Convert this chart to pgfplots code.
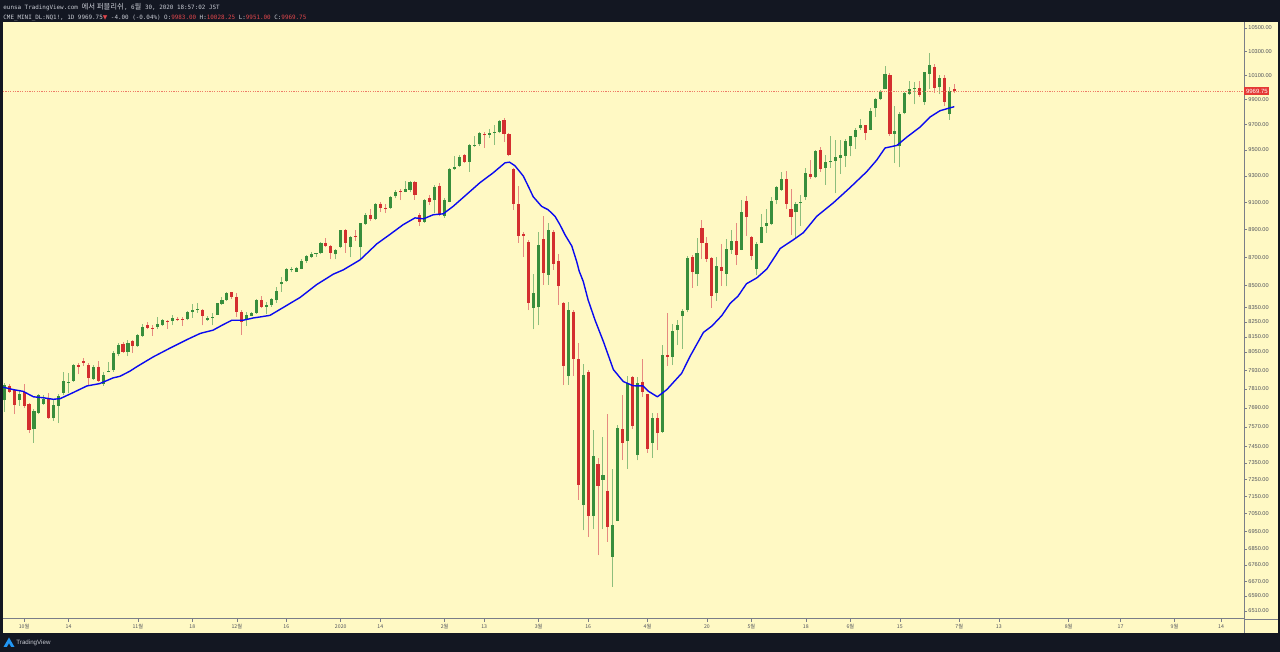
\documentclass[border=0pt]{standalone}
\usepackage{pgfplots}
\pgfplotsset{compat=1.18}
\usepackage{pgfplotstable}
\usepackage{fontspec}
\setmainfont{Liberation Sans}
\newfontfamily\kr{Noto Sans CJK KR}
\newfontfamily\mono{DejaVu Sans Mono}
\newfontfamily\dv{DejaVu Sans}
\definecolor{frame}{HTML}{131722}
\definecolor{paper}{HTML}{FFF9C4}
\definecolor{upc}{HTML}{388E3C}
\definecolor{dnc}{HTML}{D32F2F}
\definecolor{upw}{HTML}{8DBE7C}
\definecolor{dnw}{HTML}{E68A80}
\definecolor{maline}{HTML}{0A0AF0}
\definecolor{axisg}{HTML}{7B7E88}
\definecolor{lab}{HTML}{50535C}
\definecolor{hdr}{HTML}{C8CBD3}
\definecolor{hred}{HTML}{E0474C}
\definecolor{lastred}{HTML}{E53935}
\definecolor{tvblue}{HTML}{2196F3}

% rising candles: per bar i, (low, open) then (high, close); w = wick, b = body
\pgfplotstableread[row sep=\\]{
i w b\\
0 7664 7740\\ 0 7848 7837\\ 0 nan nan\\
3 7702 7740\\ 3 7802 7775\\ 3 nan nan\\
6 7472 7557\\ 6 7681 7667\\ 6 nan nan\\
7 7650 7660\\ 7 7779 7771\\ 7 nan nan\\
8 7707 7712\\ 8 7769 7744\\ 8 nan nan\\
10 7608 7624\\ 10 7748 7706\\ 10 nan nan\\
11 7593 7702\\ 11 7779 7765\\ 11 nan nan\\
12 7769 7786\\ 12 7917 7862\\ 12 nan nan\\
13 7786 7852\\ 13 7912 7858\\ 13 nan nan\\
14 7858 7864\\ 14 7969 7964\\ 14 nan nan\\
18 7868 7872\\ 18 7962 7954\\ 18 nan nan\\
20 7831 7844\\ 20 7917 7900\\ 20 nan nan\\
21 7917 7922\\ 21 7984 7929\\ 21 nan nan\\
22 7920 7930\\ 22 8055 8040\\ 22 nan nan\\
23 8020 8035\\ 23 8110 8095\\ 23 nan nan\\
25 8021 8052\\ 25 8131 8109\\ 25 nan nan\\
27 8083 8087\\ 27 8169 8163\\ 27 nan nan\\
28 8152 8158\\ 28 8233 8218\\ 28 nan nan\\
31 8200 8215\\ 31 8284 8233\\ 31 nan nan\\
32 8224 8229\\ 32 8273 8262\\ 32 nan nan\\
34 8229 8255\\ 34 8300 8277\\ 34 nan nan\\
37 8262 8267\\ 37 8326 8319\\ 37 nan nan\\
38 8277 8317\\ 38 8370 8330\\ 38 nan nan\\
39 8311 8332\\ 39 8377 8339\\ 39 nan nan\\
41 8255 8262\\ 41 8288 8277\\ 41 nan nan\\
42 8227 8276\\ 42 8313 8281\\ 42 nan nan\\
43 8298 8300\\ 43 8381 8377\\ 43 nan nan\\
44 8366 8373\\ 44 8418 8400\\ 44 nan nan\\
45 8393 8400\\ 45 8457 8450\\ 45 nan nan\\
49 8224 8262\\ 49 8315 8300\\ 49 nan nan\\
50 8288 8293\\ 50 8319 8311\\ 50 nan nan\\
51 8306 8311\\ 51 8405 8400\\ 51 nan nan\\
53 8306 8355\\ 53 8389 8366\\ 53 nan nan\\
54 8355 8366\\ 54 8411 8405\\ 54 nan nan\\
55 8382 8400\\ 55 8493 8464\\ 55 nan nan\\
56 8457 8510\\ 56 8557 8527\\ 56 nan nan\\
57 8527 8531\\ 57 8626 8614\\ 57 nan nan\\
58 8595 8609\\ 58 8633 8615\\ 58 nan nan\\
59 8595 8598\\ 59 8631 8626\\ 59 nan nan\\
60 8614 8619\\ 60 8684 8672\\ 60 nan nan\\
61 8660 8672\\ 61 8714 8707\\ 61 nan nan\\
62 8697 8700\\ 62 8738 8726\\ 62 nan nan\\
63 8704 8725\\ 63 8731 8731\\ 63 nan nan\\
64 8721 8728\\ 64 8808 8805\\ 64 nan nan\\
67 8684 8721\\ 67 8758 8749\\ 67 nan nan\\
68 8764 8772\\ 68 8898 8893\\ 68 nan nan\\
70 8698 8770\\ 70 8855 8845\\ 70 nan nan\\
72 8690 8770\\ 72 8950 8945\\ 72 nan nan\\
73 8933 8940\\ 73 9020 9007\\ 73 nan nan\\
75 8970 8975\\ 75 9097 9085\\ 75 nan nan\\
78 9050 9060\\ 78 9150 9137\\ 78 nan nan\\
79 9130 9145\\ 79 9195 9180\\ 79 nan nan\\
81 9175 9180\\ 81 9260 9200\\ 81 nan nan\\
82 9175 9194\\ 82 9262 9250\\ 82 nan nan\\
85 8950 8955\\ 85 9128 9116\\ 85 nan nan\\
87 9020 9116\\ 87 9232 9214\\ 87 nan nan\\
89 8985 8996\\ 89 9132 9120\\ 89 nan nan\\
90 9100 9105\\ 90 9360 9352\\ 90 nan nan\\
91 9343 9352\\ 91 9452 9370\\ 91 nan nan\\
92 9370 9378\\ 92 9460 9447\\ 92 nan nan\\
94 9330 9405\\ 94 9543 9537\\ 94 nan nan\\
95 9525 9531\\ 95 9610 9538\\ 95 nan nan\\
96 9532 9543\\ 96 9637 9630\\ 96 nan nan\\
98 9596 9620\\ 98 9665 9630\\ 98 nan nan\\
99 9540 9632\\ 99 9700 9638\\ 99 nan nan\\
100 9630 9637\\ 100 9732 9724\\ 100 nan nan\\
107 8200 8344\\ 107 8580 8450\\ 107 nan nan\\
108 8227 8350\\ 108 8885 8785\\ 108 nan nan\\
110 8507 8575\\ 110 8945 8893\\ 110 nan nan\\
114 7837 7893\\ 114 8389 8332\\ 114 nan nan\\
117 6955 7100\\ 117 7969 7900\\ 117 nan nan\\
119 6960 7036\\ 119 7553 7394\\ 119 nan nan\\
121 6960 7250\\ 121 7510 7278\\ 121 nan nan\\
123 6640 6805\\ 123 7316 6985\\ 123 nan nan\\
124 7005 7010\\ 124 7585 7565\\ 124 nan nan\\
126 7316 7485\\ 126 7895 7849\\ 126 nan nan\\
128 7366 7398\\ 128 7884 7851\\ 128 nan nan\\
131 7380 7472\\ 131 7660 7625\\ 131 nan nan\\
133 7535 7540\\ 133 8094 8031\\ 133 nan nan\\
135 7964 8015\\ 135 8236 8189\\ 135 nan nan\\
136 8094 8195\\ 136 8262 8227\\ 136 nan nan\\
137 8072 8293\\ 137 8337 8326\\ 137 nan nan\\
138 8315 8332\\ 138 8707 8691\\ 138 nan nan\\
140 8498 8578\\ 140 8840 8728\\ 140 nan nan\\
144 8395 8445\\ 144 8700 8637\\ 144 nan nan\\
146 8495 8584\\ 146 8832 8760\\ 146 nan nan\\
147 8726 8755\\ 147 8893 8815\\ 147 nan nan\\
149 8750 8755\\ 149 9116 9027\\ 149 nan nan\\
152 8571 8619\\ 152 8808 8795\\ 152 nan nan\\
153 8800 8805\\ 153 9015 8920\\ 153 nan nan\\
154 8875 8925\\ 154 9050 8950\\ 154 nan nan\\
155 8930 8940\\ 155 9137 9110\\ 155 nan nan\\
156 9085 9116\\ 156 9224 9214\\ 156 nan nan\\
157 9188 9196\\ 157 9330 9277\\ 157 nan nan\\
160 8840 9025\\ 160 9104 9088\\ 160 nan nan\\
161 8926 9092\\ 161 9156 9104\\ 161 nan nan\\
162 9116 9142\\ 162 9362 9320\\ 162 nan nan\\
164 9285 9289\\ 164 9500 9495\\ 164 nan nan\\
166 9231 9360\\ 166 9460 9405\\ 166 nan nan\\
167 9360 9405\\ 167 9610 9415\\ 167 nan nan\\
168 9170 9415\\ 168 9576 9445\\ 168 nan nan\\
169 9315 9440\\ 169 9576 9460\\ 169 nan nan\\
170 9370 9455\\ 170 9585 9568\\ 170 nan nan\\
171 9450 9527\\ 171 9612 9605\\ 171 nan nan\\
172 9508 9600\\ 172 9675 9660\\ 172 nan nan\\
173 9660 9670\\ 173 9740 9695\\ 173 nan nan\\
175 9655 9660\\ 175 9835 9805\\ 175 nan nan\\
176 9760 9830\\ 176 9915 9905\\ 176 nan nan\\
177 9895 9905\\ 177 9975 9965\\ 177 nan nan\\
178 9983 9983\\ 178 10178 10110\\ 178 nan nan\\
180 9397 9627\\ 180 9845 9645\\ 180 nan nan\\
181 9364 9527\\ 181 9797 9787\\ 181 nan nan\\
182 9780 9795\\ 182 9965 9955\\ 182 nan nan\\
183 9940 9945\\ 183 10050 9990\\ 183 nan nan\\
184 9862 9991\\ 184 10040 9996\\ 184 nan nan\\
186 9860 9880\\ 186 10127 10123\\ 186 nan nan\\
187 9990 10110\\ 187 10285 10185\\ 187 nan nan\\
189 9945 10000\\ 189 10105 10080\\ 189 nan nan\\
191 9737 9785\\ 191 10000 9970\\ 191 nan nan\\
}\upcandles

% falling candles: per bar i, (low, open) then (high, close)
\pgfplotstableread[row sep=\\]{
i w b\\
1 7786 7829\\ 1 7844 7790\\ 1 nan nan\\
2 7650 7806\\ 2 7810 7706\\ 2 nan nan\\
4 7692 7790\\ 4 7844 7698\\ 4 nan nan\\
5 7533 7716\\ 5 7723 7552\\ 5 nan nan\\
9 7620 7748\\ 9 7786 7624\\ 9 nan nan\\
15 7906 7964\\ 15 7976 7952\\ 15 nan nan\\
16 7958 7990\\ 16 8010 7978\\ 16 nan nan\\
17 7837 7962\\ 17 7980 7879\\ 17 nan nan\\
19 7852 7954\\ 19 7990 7864\\ 19 nan nan\\
24 8046 8105\\ 24 8117 8052\\ 24 nan nan\\
26 8046 8125\\ 26 8131 8087\\ 26 nan nan\\
29 8200 8227\\ 29 8248 8211\\ 29 nan nan\\
30 8158 8211\\ 30 8227 8203\\ 30 nan nan\\
33 8205 8260\\ 33 8262 8249\\ 33 nan nan\\
35 8255 8273\\ 35 8284 8265\\ 35 nan nan\\
36 8224 8271\\ 36 8284 8262\\ 36 nan nan\\
40 8227 8332\\ 40 8335 8293\\ 40 nan nan\\
46 8405 8452\\ 46 8457 8418\\ 46 nan nan\\
47 8284 8421\\ 47 8450 8315\\ 47 nan nan\\
48 8163 8315\\ 48 8332 8249\\ 48 nan nan\\
52 8344 8400\\ 52 8427 8355\\ 52 nan nan\\
65 8772 8805\\ 65 8841 8781\\ 65 nan nan\\
66 8684 8781\\ 66 8788 8731\\ 66 nan nan\\
69 8731 8893\\ 69 8903 8805\\ 69 nan nan\\
71 8820 8856\\ 71 8893 8849\\ 71 nan nan\\
74 8965 9007\\ 74 9052 8975\\ 74 nan nan\\
76 9028 9090\\ 76 9106 9060\\ 76 nan nan\\
77 9020 9061\\ 77 9085 9055\\ 77 nan nan\\
80 9116 9186\\ 80 9200 9177\\ 80 nan nan\\
83 9120 9254\\ 83 9262 9158\\ 83 nan nan\\
84 8928 9007\\ 84 9020 8955\\ 84 nan nan\\
86 9082 9132\\ 86 9156 9105\\ 86 nan nan\\
88 8996 9224\\ 88 9248 9004\\ 88 nan nan\\
93 9400 9460\\ 93 9468 9410\\ 93 nan nan\\
97 9515 9624\\ 97 9637 9614\\ 97 nan nan\\
101 9560 9732\\ 101 9752 9623\\ 101 nan nan\\
102 9450 9623\\ 102 9630 9460\\ 102 nan nan\\
103 9045 9352\\ 103 9360 9085\\ 103 nan nan\\
104 8805 9085\\ 104 9224 8850\\ 104 nan nan\\
105 8705 8870\\ 105 8880 8850\\ 105 nan nan\\
106 8330 8808\\ 106 8825 8377\\ 106 nan nan\\
109 8507 8830\\ 109 9000 8590\\ 109 nan nan\\
111 8612 8885\\ 111 8898 8650\\ 111 nan nan\\
112 8366 8674\\ 112 8721 8498\\ 112 nan nan\\
113 7835 8377\\ 113 8389 7960\\ 113 nan nan\\
115 7893 8320\\ 115 8332 8000\\ 115 nan nan\\
116 7131 8000\\ 116 8108 7218\\ 116 nan nan\\
118 6916 7922\\ 118 7934 7036\\ 118 nan nan\\
120 6815 7344\\ 120 7380 7212\\ 120 nan nan\\
122 6890 7185\\ 122 7650 6972\\ 122 nan nan\\
125 7368 7555\\ 125 7770 7470\\ 125 nan nan\\
127 7560 7884\\ 127 7895 7578\\ 127 nan nan\\
129 7758 7858\\ 129 8000 7790\\ 129 nan nan\\
130 7410 7775\\ 130 7779 7435\\ 130 nan nan\\
132 7428 7625\\ 132 7660 7532\\ 132 nan nan\\
134 7960 8031\\ 134 8309 8015\\ 134 nan nan\\
139 8484 8700\\ 139 8714 8594\\ 139 nan nan\\
141 8684 8910\\ 141 8966 8805\\ 141 nan nan\\
142 8669 8800\\ 142 8845 8684\\ 142 nan nan\\
143 8344 8691\\ 143 8700 8430\\ 143 nan nan\\
145 8500 8633\\ 145 8795 8600\\ 145 nan nan\\
148 8644 8815\\ 148 8945 8714\\ 148 nan nan\\
150 8855 9110\\ 150 9150 8990\\ 150 nan nan\\
151 8679 8845\\ 151 8850 8707\\ 151 nan nan\\
158 9050 9277\\ 158 9340 9085\\ 158 nan nan\\
159 8860 9050\\ 159 9204 8995\\ 159 nan nan\\
163 9277 9313\\ 163 9420 9289\\ 163 nan nan\\
165 9332 9500\\ 165 9520 9352\\ 165 nan nan\\
174 9576 9695\\ 174 9700 9635\\ 174 nan nan\\
179 9610 10100\\ 179 10118 9627\\ 179 nan nan\\
185 9922 9992\\ 185 10050 9935\\ 185 nan nan\\
188 9955 10170\\ 188 10192 9995\\ 188 nan nan\\
190 9845 10080\\ 190 10105 9880\\ 190 nan nan\\
192 9951 9983\\ 192 10028.25 9969.75\\ 192 nan nan\\
}\dncandles

% moving average line
\pgfplotstableread{
i v
-0.26 7822
1.8 7806
3.8 7795
5.9 7760
7.9 7754
9.9 7744
11.3 7748
13.9 7786
16.7 7829
19.3 7844
22.0 7881
23.4 7892
25.4 7925
26.8 7954
30.1 8017
33.5 8075
36.9 8131
39.6 8173
42.2 8195
44.3 8233
46.0 8262
48.3 8262
50.3 8277
51.7 8284
53.7 8295
56.4 8349
59.8 8418
63.1 8506
66.5 8580
68.5 8610
71.9 8681
75.3 8796
77.9 8863
80.6 8935
83.0 8985
84.7 8978
86.7 9008
88.7 9015
90.7 9070
93.4 9158
96.1 9247
98.8 9323
101.2 9400
102.1 9405
103.2 9378
104.9 9298
105.9 9221
106.9 9142
108.6 9070
109.9 9046
111.3 8997
112.3 8935
113.3 8863
114.7 8780
115.7 8667
116.2 8600
117.0 8530
118.0 8400
119.4 8262
121.1 8117
123.1 7936
125.1 7858
127.1 7831
129.1 7829
130.2 7795
132.0 7760
133.9 7806
136.9 7912
138.6 8021
141.3 8180
143.0 8222
145.0 8293
146.7 8377
148.3 8427
150.0 8513
152.1 8554
154.1 8616
156.8 8762
159.5 8826
161.5 8877
164.2 8997
167.5 9095
170.9 9210
174.3 9332
176.3 9420
178.0 9515
180.4 9535
182.4 9600
185.1 9680
187.1 9760
189.1 9810
190.4 9825
192 9843
}\matab

\begin{document}
\begin{tikzpicture}[x=1pt,y=1pt]
\fill[frame] (0,0) rectangle (640,326);
\fill[paper] (1.5,9.5) rectangle (639,315);
\begin{axis}[
  at={(1.5pt,16.5pt)}, anchor=south west,
  scale only axis, width=620.5pt, height=298.5pt,
  xmin=-0.26, xmax=250.55,
  ymode=log, ymin=6467.8, ymax=10551.8,
  axis on top,
  axis x line*=bottom, axis y line*=right,
  axis line style={draw=axisg, line width=0.4pt, -},
  tick align=outside, major tick length=1.5pt, minor tick length=0pt,
  tick style={draw=axisg, line width=0.3pt},
  xtick={4,13,27,38,47,57,68,76,89,97,108,118,130,142,151,162,171,181,193,201,215.1,225.6,236.5,245.9},
  xticklabels={10월,14,11월,18,12월,16,2020,14,2월,13,3월,16,4월,20,5월,18,6월,15,7월,13,8월,17,9월,14},
  xticklabel style={font=\kr\fontsize{2.6}{3}\selectfont, text=lab, inner sep=0.5pt, yshift=-0.6pt},
  ytick={6510,6590,6670,6760,6850,6950,7050,7150,7250,7350,7450,7570,7690,7810,7930,8050,8150,8250,8350,8500,8700,8900,9100,9300,9500,9700,9900,10100,10300,10500},
  yticklabels={6510.00,6590.00,6670.00,6760.00,6850.00,6950.00,7050.00,7150.00,7250.00,7350.00,7450.00,7570.00,7690.00,7810.00,7930.00,8050.00,8150.00,8250.00,8350.00,8500.00,8700.00,8900.00,9100.00,9300.00,9500.00,9700.00,9900.00,10100.00,10300.00,10500.00},
  yticklabel style={font=\fontsize{2.8}{3}\selectfont, text=lab, inner sep=0.5pt},
  axis background/.style={fill=paper},
  unbounded coords=jump,
]
% wicks
\addplot[upw, line width=0.5pt, mark=none] table[x=i, y=w] {\upcandles};
\addplot[dnw, line width=0.5pt, mark=none] table[x=i, y=w] {\dncandles};
% bodies
\addplot[upc, line width=1.55pt, mark=none, line cap=butt] table[x=i, y=b] {\upcandles};
\addplot[dnc, line width=1.55pt, mark=none, line cap=butt] table[x=i, y=b] {\dncandles};
% moving average
\addplot[maline, line width=0.7pt, mark=none, line join=round] table[x=i, y=v] {\matab};
% last price line
\addplot[lastred!65!paper, line width=0.35pt, dash pattern=on 0.6pt off 0.6pt, mark=none] coordinates {(-0.26,9969.75) (250.55,9969.75)};
\end{axis}
\node[fill=lastred, text=white, font=\fontsize{3.0}{3.2}\selectfont, inner sep=0.8pt, anchor=west] at (622,280.5) {9969.75};
\draw[axisg, line width=0.4pt] (622,9.5) -- (622,16.5);
\draw[axisg, line width=0.4pt] (622,16.5) -- (639,16.5);
\node[anchor=base west, inner sep=0, text=hdr, font=\mono\fontsize{2.95}{3.5}\selectfont] at (1.5,321)
  {eunsa TradingView.com {\kr\fontsize{3.7}{3.9}\selectfont 에서 퍼블리쉬}, 6{\kr\fontsize{3.7}{3.9}\selectfont 월} 30, 2020 18:57:02 JST};
\node[anchor=base west, inner sep=0, text=hdr, font=\mono\fontsize{2.95}{3.5}\selectfont] at (1.5,316)
  {CME\_MINI\_DL:NQ1!, 1D 9969.75{\dv\color{hred}▼} -4.00 (-0.04\%) O:{\color{hred}9983.00} H:{\color{hred}10028.25} L:{\color{hred}9951.00} C:{\color{hred}9969.75}};
\fill[tvblue] (1.75,2.5) -- (4.5,7.25) -- (7.25,2.5) -- cycle;
\fill[frame] (3.5,2.5) -- (4.5,4.25) -- (5.5,2.5) -- cycle;
\node[anchor=west, inner sep=0, text=hdr, font=\fontsize{3.1}{3.5}\selectfont] at (8,4.75) {TradingView};
\pgfresetboundingbox
\path[use as bounding box] (0,0) rectangle (640,326);
\end{tikzpicture}
\end{document}
